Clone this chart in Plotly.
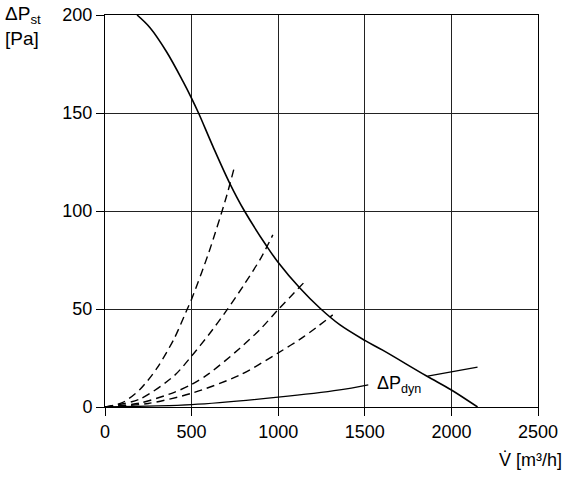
import plotly.graph_objects as go

# Fan characteristic (solid)
fan_v = [185, 260, 357, 451, 500, 540, 623, 721, 802, 934, 998, 1125, 1240, 1355, 1500, 1603, 1857, 2000, 2151]
fan_p = [200, 193.5, 181, 166, 157.5, 150, 133, 114, 100.5, 82, 74, 60.7, 50.5, 42, 34, 29, 15.8, 8.7, 0]

# System curves (dashed)
sys1_v = [0, 100, 200, 300, 400, 475, 500, 600, 700, 744]
sys1_p = [0, 2.2, 8.8, 19.8, 35, 50, 55, 79, 107, 121.4]
sys2_v = [0, 200, 400, 500, 600, 700, 800, 900, 969]
sys2_p = [0, 4, 16, 26, 37, 49, 62, 76, 87.8]
sys3_v = [0, 200, 400, 500, 600, 779, 900, 998, 1165]
sys3_p = [0, 2, 7.5, 11.5, 17, 30, 40, 49.5, 65]
sys4_v = [0, 250, 500, 779, 998, 1150, 1315]
sys4_p = [0, 1.8, 7, 16.3, 27.5, 36, 47]

# Dynamic pressure (solid, thin); the label interrupts it between 1520 and 1863
dyn_v = [0, 500, 1000, 1355, 1520, 1863, 2151]
dyn_p = [0, 1.2, 5, 8.7, 11.3, 15.8, 20.4]
dyn_gap_start, dyn_gap_end = 1520, 1863

x_ticks = [0, 500, 1000, 1500, 2000, 2500]
y_ticks = [0, 50, 100, 150, 200]

FONT = "Liberation Sans, Arial, sans-serif"

fig = go.Figure()
dash = "8px,5px"
for v, p in [(sys1_v, sys1_p), (sys2_v, sys2_p), (sys3_v, sys3_p), (sys4_v, sys4_p)]:
    fig.add_trace(go.Scatter(x=v, y=p, mode="lines",
                             line=dict(color="black", width=1.4, dash=dash, shape="spline", smoothing=0.8),
                             showlegend=False, hoverinfo="skip"))

seg1 = [(v, p) for v, p in zip(dyn_v, dyn_p) if v <= dyn_gap_start]
seg2 = [(v, p) for v, p in zip(dyn_v, dyn_p) if v >= dyn_gap_end]
for seg in (seg1, seg2):
    fig.add_trace(go.Scatter(x=[s[0] for s in seg], y=[s[1] for s in seg], mode="lines",
                             line=dict(color="black", width=1.3, shape="spline", smoothing=0.8),
                             showlegend=False, hoverinfo="skip"))
fig.add_trace(go.Scatter(x=fan_v, y=fan_p, mode="lines",
                         line=dict(color="black", width=1.6, shape="spline", smoothing=1.0),
                         showlegend=False, hoverinfo="skip"))

axis_common = dict(
    showgrid=True, gridcolor="#222", gridwidth=1,
    showline=True, linecolor="black", linewidth=1, mirror=True,
    ticks="outside", ticklen=8, tickcolor="black", tickwidth=1,
    zeroline=False, automargin=False,
    tickfont=dict(family=FONT, size=18, color="black"),
)
fig.update_xaxes(range=[0, 2500], tickvals=x_ticks, ticktext=[str(t) for t in x_ticks], **axis_common)
fig.update_yaxes(range=[0, 200], tickvals=y_ticks, ticktext=[str(t) for t in y_ticks], **axis_common)

fig.add_annotation(xref="paper", yref="paper", x=-0.235, y=1.035, xanchor="left", yanchor="top",
                   text="ΔP<sub>st</sub><br>[Pa]", showarrow=False, align="left",
                   font=dict(family=FONT, size=19, color="black"))
fig.add_annotation(xref="paper", yref="paper", x=1.06, y=-0.105, xanchor="right", yanchor="top",
                   text="V\u0307 [m³/h]", showarrow=False,
                   font=dict(family=FONT, size=18, color="black"))
fig.add_annotation(x=1560, y=11.5, xanchor="left", yanchor="middle",
                   text="ΔP<sub>dyn</sub>", showarrow=False,
                   font=dict(family=FONT, size=18, color="black"))

fig.update_layout(
    width=570, height=477,
    margin=dict(l=105, r=32, t=15, b=70, autoexpand=False),
    paper_bgcolor="white", plot_bgcolor="white",
    showlegend=False,
)
fig.write_html("out.html")
